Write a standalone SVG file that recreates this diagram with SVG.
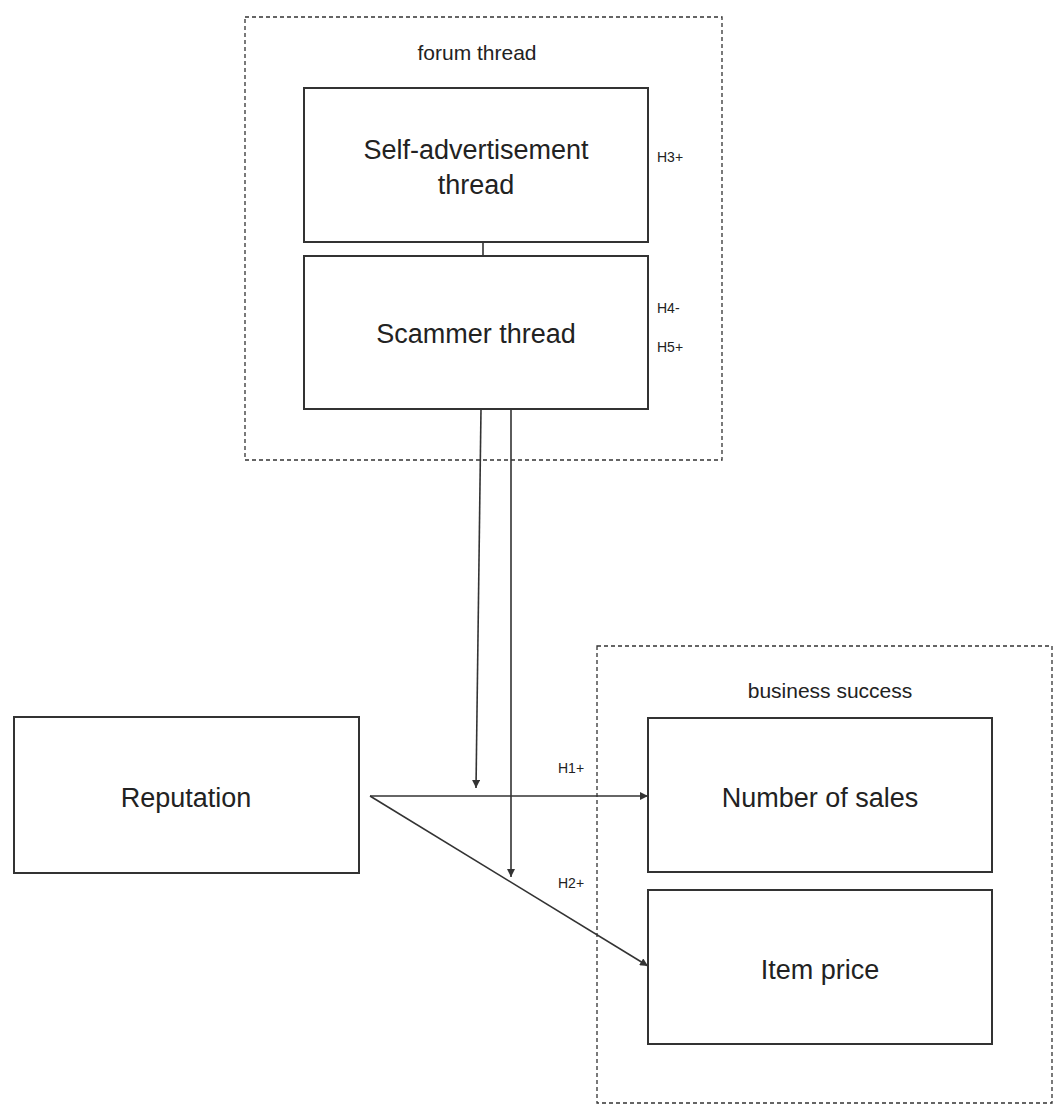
<svg xmlns="http://www.w3.org/2000/svg" width="1054" height="1111" viewBox="0 0 1054 1111">
  <style>
    .box { fill: #ffffff; stroke: #333333; stroke-width: 2; }
    .group { fill: none; stroke: #333333; stroke-width: 1.3; stroke-dasharray: 4 3; }
    .big { font-family: "Liberation Sans", Arial, sans-serif; font-size: 27px; fill: #222222; text-anchor: middle; }
    .grp { font-family: "Liberation Sans", Arial, sans-serif; font-size: 21px; fill: #222222; text-anchor: middle; }
    .hyp { font-family: "Liberation Sans", Arial, sans-serif; font-size: 14px; fill: #222222; }
    .edge { fill: none; stroke: #333333; stroke-width: 1.6; }
  </style>
  <defs>
    <marker id="arrow" viewBox="0 0 10 10" refX="10" refY="5" markerWidth="9" markerHeight="8" markerUnits="userSpaceOnUse" orient="auto">
      <path d="M0,0 L10,5 L0,10 Z" fill="#333333"/>
    </marker>
  </defs>
  <rect width="1054" height="1111" fill="#ffffff"/>

  <g id="group-forum-thread">
    <rect class="group" x="245" y="17" width="477" height="443"/>
    <text class="grp" x="477" y="60">forum thread</text>
  </g>
  <g id="group-business-success">
    <rect class="group" x="597" y="646" width="455" height="457"/>
    <text class="grp" x="830" y="698">business success</text>
  </g>

  <g id="connectors">
    <line class="edge" x1="483" y1="242" x2="483" y2="256"/>
    <line class="edge" x1="481" y1="409" x2="476" y2="788" marker-end="url(#arrow)"/>
    <line class="edge" x1="511" y1="409" x2="511" y2="877" marker-end="url(#arrow)"/>
    <line class="edge" x1="370" y1="796" x2="648" y2="796" marker-end="url(#arrow)"/>
    <line class="edge" x1="370" y1="796" x2="648" y2="966" marker-end="url(#arrow)"/>
    <text class="hyp" x="558" y="773">H1+</text>
    <text class="hyp" x="558" y="888">H2+</text>
    <text class="hyp" x="657" y="162">H3+</text>
    <text class="hyp" x="657" y="313">H4-</text>
    <text class="hyp" x="657" y="352">H5+</text>
  </g>

  <g id="node-self-advertisement">
    <rect class="box" x="304" y="88" width="344" height="154"/>
    <text class="big" x="476" y="159">Self-advertisement</text>
    <text class="big" x="476" y="194">thread</text>
  </g>
  <g id="node-scammer-thread">
    <rect class="box" x="304" y="256" width="344" height="153"/>
    <text class="big" x="476" y="343">Scammer thread</text>
  </g>
  <g id="node-reputation">
    <rect class="box" x="14" y="717" width="345" height="156"/>
    <text class="big" x="186" y="807">Reputation</text>
  </g>
  <g id="node-number-of-sales">
    <rect class="box" x="648" y="718" width="344" height="154"/>
    <text class="big" x="820" y="807">Number of sales</text>
  </g>
  <g id="node-item-price">
    <rect class="box" x="648" y="890" width="344" height="154"/>
    <text class="big" x="820" y="979">Item price</text>
  </g>
</svg>
